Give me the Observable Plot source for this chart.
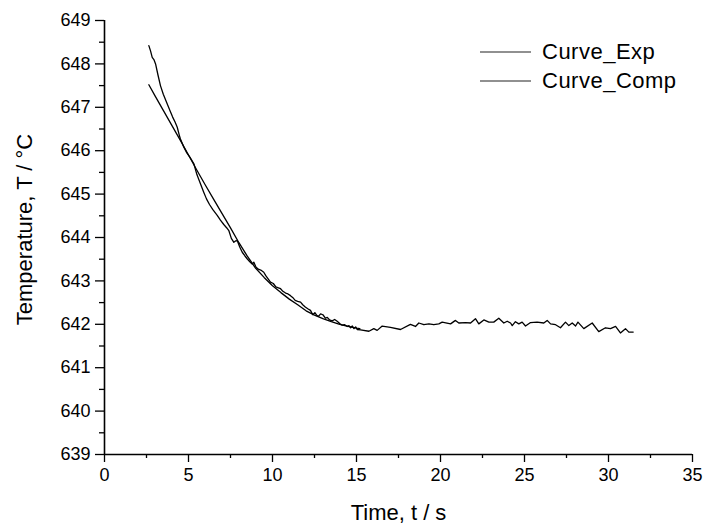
<!DOCTYPE html>
<html>
<head>
<meta charset="utf-8">
<script src="https://cdn.jsdelivr.net/npm/d3@7"></script>
<script src="https://cdn.jsdelivr.net/npm/@observablehq/plot@0.6"></script>
<style>
  html, body { margin: 0; padding: 0; background: white; }
  #chart { position: relative; width: 704px; height: 524px; }
</style>
</head>
<body>
<div id="chart"></div>
<script>
// ---- Data ----
const seriesNames = ["Curve_Exp", "Curve_Comp"];

const expTime = [2.64, 2.74, 2.84, 2.94, 3.04, 3.18, 3.33, 3.50, 3.73, 3.90, 4.05, 4.20, 4.33, 4.45, 4.52,
  4.70, 4.90, 5.10, 5.32, 5.50, 5.70, 5.90, 6.07, 6.25, 6.45, 6.71, 6.90, 7.10, 7.28, 7.40, 7.55, 7.70,
  7.80, 7.90, 8.05, 8.20, 8.35, 8.49, 8.65, 8.79, 8.89, 9.00, 9.15, 9.30, 9.48, 9.60, 9.75, 9.88, 10.05,
  10.20, 10.35, 10.48, 10.62, 10.78, 10.92, 11.07, 11.20, 11.35, 11.50, 11.67, 11.80, 11.95, 12.10, 12.26,
  12.40, 12.52, 12.65, 12.75, 12.86, 13.00, 13.15, 13.26, 13.40, 13.55, 13.70, 13.85, 14.00, 14.15, 14.30,
  14.45, 14.55, 14.65, 14.75, 14.85, 14.95, 15.04, 15.24, 15.74, 16.03, 16.23, 16.53, 17.02, 17.62, 18.21,
  18.51, 18.71, 19.01, 19.31, 19.60, 19.90, 20.10, 20.60, 20.89, 21.09, 21.49, 21.79, 22.08, 22.28, 22.58,
  22.88, 23.17, 23.47, 23.77, 23.97, 24.17, 24.27, 24.46, 24.66, 24.86, 25.06, 25.36, 25.75, 26.15, 26.35,
  26.55, 26.85, 27.14, 27.44, 27.64, 27.84, 28.04, 28.18, 28.53, 29.03, 29.42, 29.82, 30.12, 30.42, 30.71,
  31.01, 31.21, 31.47];
const expTemp = [648.42, 648.30, 648.15, 648.10, 648.00, 647.75, 647.50, 647.30, 647.08, 646.92, 646.78, 646.66, 646.54, 646.36, 646.27,
  646.10, 645.95, 645.84, 645.70, 645.45, 645.25, 645.05, 644.89, 644.76, 644.64, 644.51, 644.40, 644.30, 644.22, 644.16, 643.98, 643.89,
  643.92, 643.93, 643.78, 643.66, 643.58, 643.51, 643.44, 643.39, 643.43, 643.33, 643.27, 643.25, 643.20, 643.12, 643.04, 642.97, 642.94,
  642.86, 642.84, 642.82, 642.76, 642.72, 642.70, 642.66, 642.62, 642.55, 642.53, 642.51, 642.45, 642.40, 642.36, 642.32,
  642.22, 642.27, 642.20, 642.19, 642.24, 642.22, 642.14, 642.16, 642.10, 642.08, 642.11, 642.07, 642.02, 641.98, 641.99,
  641.95, 641.97, 641.92, 641.96, 641.90, 641.94, 641.88, 641.87, 641.84, 641.90, 641.86, 641.96, 641.93, 641.88, 642.00,
  641.95, 642.03, 641.99, 642.01, 641.99, 642.01, 642.05, 642.01, 642.09, 642.03, 642.04, 642.03, 642.13, 642.01, 642.10,
  642.05, 642.05, 642.14, 642.03, 642.07, 642.03, 641.97, 642.06, 642.01, 642.05, 641.96, 642.04, 642.05, 642.03, 642.09,
  642.01, 641.99, 641.92, 642.05, 641.97, 642.03, 641.96, 642.05, 641.90, 642.03, 641.83, 641.92, 641.90, 641.95, 641.80,
  641.90, 641.82, 641.82];

const compTime = [2.64, 3.0, 3.5, 4.0, 4.5, 5.0, 5.5, 6.0, 6.5, 7.0, 7.5, 8.0, 8.5, 9.0, 9.5, 10.0, 10.5, 11.0,
  11.5, 12.0, 12.5, 13.0, 13.5, 14.0, 14.5, 15.0, 15.2];
const compTemp = [647.52, 647.27, 646.93, 646.59, 646.25, 645.90, 645.55, 645.21, 644.88, 644.55, 644.22, 643.88, 643.57, 643.29,
  643.08, 642.89, 642.73, 642.58, 642.45, 642.31, 642.21, 642.13, 642.06, 642.00, 641.95, 641.91, 641.90];

const xTicks = [0, 5, 10, 15, 20, 25, 30, 35];
const xMinor = [2.5, 7.5, 12.5, 17.5, 22.5, 27.5, 32.5];
const yTicks = [639, 640, 641, 642, 643, 644, 645, 646, 647, 648, 649];
const yMinor = [639.5, 640.5, 641.5, 642.5, 643.5, 644.5, 645.5, 646.5, 647.5, 648.5];

const xTitle = "Time, t / s";
const yTitle = "Temperature, T / °C";

// ---- Build ----
const expData = expTime.map((t, i) => ({t, T: expTemp[i]}));
const compData = compTime.map((t, i) => ({t, T: compTemp[i]}));

const font = "'Liberation Sans', Arial, Helvetica, sans-serif";

const plot = Plot.plot({
  width: 704,
  height: 524,
  marginLeft: 104,
  marginRight: 12,
  marginTop: 20,
  marginBottom: 70,
  style: {fontFamily: font, fontSize: "18px", background: "white", color: "black"},
  x: {domain: [0, 35]},
  y: {domain: [639, 649]},
  marks: [
    Plot.axisX({ticks: xMinor, tickSize: 4, tickFormat: () => "", label: null, strokeWidth: 1.3}),
    Plot.axisX({ticks: xTicks, tickSize: 8, tickPadding: 6, label: null, fontSize: 18, strokeWidth: 1.3}),
    Plot.axisY({ticks: yMinor, tickSize: 5, tickFormat: () => "", label: null, strokeWidth: 1.3}),
    Plot.axisY({ticks: yTicks, tickSize: 9, tickPadding: 5, label: null, fontSize: 18, strokeWidth: 1.3}),
    Plot.ruleX([0], {stroke: "black", strokeWidth: 1.6}),
    Plot.ruleY([639], {stroke: "black", strokeWidth: 1.6}),
    Plot.line(expData, {x: "t", y: "T", stroke: "black", strokeWidth: 1.3}),
    Plot.line(compData, {x: "t", y: "T", stroke: "black", strokeWidth: 1.3}),
    Plot.text([xTitle], {frameAnchor: "bottom", dy: 58, fontSize: 22, lineAnchor: "middle", textAnchor: "middle", fill: "black"}),
    Plot.text([yTitle], {frameAnchor: "left", dx: -80, dy: -8, rotate: -90, fontSize: 22, lineAnchor: "middle", textAnchor: "middle", fill: "black"})
  ]
});

document.getElementById("chart").appendChild(plot);

// ---- Legend (inside plot area, top right) ----
const svg = d3.select(plot);
const leg = svg.append("g")
  .attr("font-family", font)
  .attr("font-size", 22)
  .attr("fill", "black")
  .attr("text-anchor", "start");
seriesNames.forEach((name, i) => {
  const yLine = 52 + i * 29;
  leg.append("line")
    .attr("x1", 480).attr("x2", 531)
    .attr("y1", yLine).attr("y2", yLine)
    .attr("stroke", "#222").attr("stroke-width", 1.1);
  leg.append("text")
    .attr("x", 542).attr("y", yLine + 7)
    .attr("text-anchor", "start")
    .attr("letter-spacing", "0.5px")
    .text(name);
});
</script>
</body>
</html>
